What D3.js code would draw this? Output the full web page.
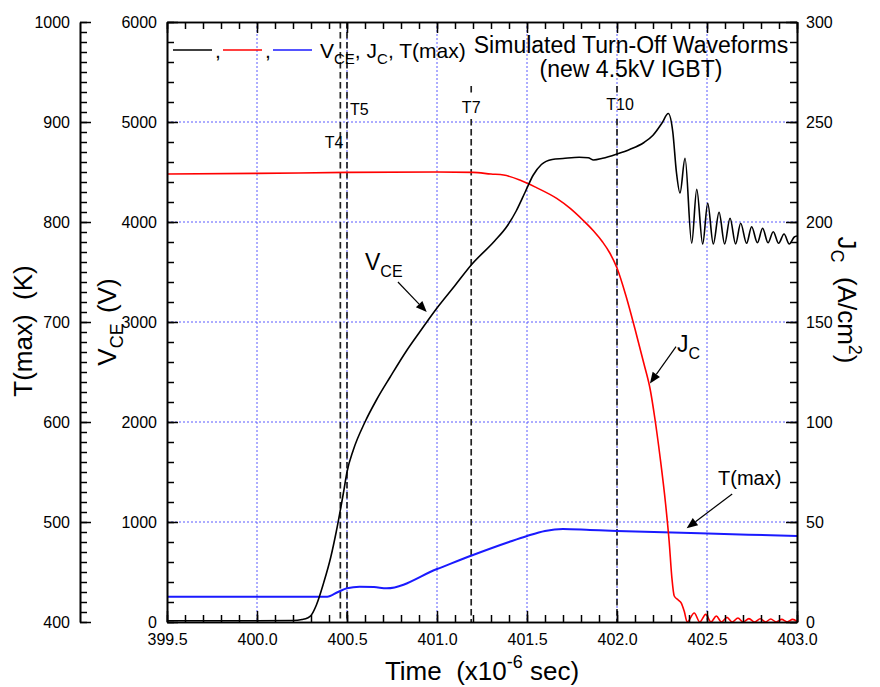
<!DOCTYPE html>
<html>
<head>
<meta charset="utf-8">
<script src="https://cdn.jsdelivr.net/npm/d3@7"></script>
<style>
  html, body { margin: 0; padding: 0; background: #fff; }
  svg { display: block; font-family: "Liberation Sans", Arial, Helvetica, sans-serif; }
</style>
</head>
<body>
<svg id="chart" width="880" height="687"></svg>
<script>
// ---- data -------------------------------------------------------------
// collector-emitter voltage V_CE (V)
const vceTime = [399.5, 400.0, 400.2, 400.25, 400.28, 400.30, 400.33, 400.37, 400.41, 400.44,
  400.48, 400.50, 400.535, 400.60, 400.665, 400.74, 400.83, 400.90, 401.0, 401.1,
  401.19, 401.32, 401.39, 401.44, 401.49, 401.535, 401.58, 401.64, 401.70, 401.79,
  401.84, 401.87, 401.92, 402.0, 402.07, 402.15, 402.20, 402.25, 402.285, 402.31,
  402.33, 402.35, 402.378, 402.415, 402.443, 402.476, 402.504, 402.535, 402.567, 402.598,
  402.628, 402.659, 402.687, 402.72, 402.748, 402.78, 402.809, 402.839, 402.868, 402.898,
  402.928, 402.957, 402.985, 403.0];
const vceValues = [12, 12, 15, 25, 40, 65, 170, 390, 650, 900,
  1290, 1500, 1720, 2000, 2225, 2450, 2710, 2890, 3140, 3365,
  3570, 3810, 3960, 4110, 4300, 4470, 4575, 4625, 4635, 4648,
  4643, 4620, 4637, 4680, 4725, 4795, 4868, 4990, 5085, 4900,
  4500, 4290, 4637, 3787, 4327, 3780, 4187, 3780, 4097, 3780,
  4037, 3780, 3987, 3787, 3953, 3793, 3937, 3793, 3903, 3787,
  3880, 3780, 3850, 3860];

// collector current density J_C (A/cm^2)
const jcTime = [399.5, 400.0, 400.5, 401.0, 401.2, 401.3, 401.37, 401.46, 401.55, 401.665,
  401.74, 401.81, 401.87, 401.92, 401.96, 402.0, 402.05, 402.1, 402.15, 402.185,
  402.21, 402.24, 402.27, 402.29, 402.305, 402.318, 402.34, 402.358, 402.374, 402.39,
  402.429, 402.46, 402.493, 402.522, 402.552, 402.58, 402.611, 402.64, 402.672, 402.70,
  402.733, 402.765, 402.796, 402.825, 402.854, 402.885, 402.915, 402.945, 402.976, 403.0];
const jcValues = [224, 224.3, 224.8, 225, 224.8, 224, 223.5, 221, 217.3, 211.8,
  206.8, 201, 195.5, 190, 184.5, 177, 163, 146.5, 129, 116,
  102, 82, 59, 40, 22, 13, 11, 9.3, 5.2, 0,
  4.5, 0, 3.8, 0, 3.0, 0, 2.3, 0, 2.0, 0,
  1.7, 0, 1.6, 0, 1.5, 0, 1.3, 0, 1.3, 0.3];

// peak device temperature T(max) (K)
const tmaxTime = [399.5, 400.0, 400.39, 400.45, 400.50, 400.57, 400.65, 400.72, 401.0, 401.2,
  401.4, 401.5, 401.6, 401.7, 401.85, 402.0, 402.46, 403.0];
const tmaxValues = [425.3, 425.3, 425.3, 430, 433.7, 435.3, 435, 433.7, 453, 467,
  480, 486, 491, 493, 492, 491, 488.7, 486];

// time markers
const markerTimes = [400.463, 400.5, 401.19, 402.0];
const markerLabels = ["T4", "T5", "T7", "T10"];

// axis ticks
const timeTicks = [399.5, 400.0, 400.5, 401.0, 401.5, 402.0, 402.5, 403.0];
const vceTicks = [0, 1000, 2000, 3000, 4000, 5000, 6000];
const jcTicks = [0, 50, 100, 150, 200, 250, 300];
const tmaxTicks = [400, 500, 600, 700, 800, 900, 1000];

// ---- layout -----------------------------------------------------------
const svg = d3.select("#chart");
const plotLeft = 167, plotRight = 797, plotTop = 22, plotBottom = 622;
const tAxisX = 80;

const x = d3.scaleLinear().domain([399.5, 403.0]).range([plotLeft, plotRight]);
const yV = d3.scaleLinear().domain([0, 6000]).range([plotBottom, plotTop]);
const yJ = d3.scaleLinear().domain([0, 300]).range([plotBottom, plotTop]);
const yT = d3.scaleLinear().domain([400, 1000]).range([plotBottom, plotTop]);

const gridColor = "#5a5aff";

// ---- grid -------------------------------------------------------------
const grid = svg.append("g");
grid.selectAll("line.h").data(vceTicks.slice(1, -1)).join("line")
  .attr("x1", plotLeft).attr("x2", plotRight)
  .attr("y1", d => yV(d)).attr("y2", d => yV(d))
  .attr("stroke", gridColor).attr("stroke-width", 1).attr("stroke-dasharray", "2,2");
grid.selectAll("line.v").data(timeTicks.slice(1, -1)).join("line")
  .attr("x1", d => x(d)).attr("x2", d => x(d))
  .attr("y1", plotTop).attr("y2", plotBottom)
  .attr("stroke", gridColor).attr("stroke-width", 1).attr("stroke-dasharray", "2,2");

// ---- marker lines -----------------------------------------------------
const markers = svg.append("g");
const dash = { stroke: "#222", width: 1.7, pattern: "6.5,3.5" };
markerTimes.forEach((t, i) => {
  const segs = i < 2 ? [[plotTop, plotBottom]] : [[86, 94], [119, plotBottom]];
  segs.forEach(s => {
    markers.append("line")
      .attr("x1", x(t)).attr("x2", x(t)).attr("y1", s[0]).attr("y2", s[1])
      .attr("stroke", dash.stroke).attr("stroke-width", dash.width)
      .attr("stroke-dasharray", dash.pattern);
  });
});
const markerText = [
  { dx: 3, y: 148, anchor: "end" },
  { dx: 3, y: 115, anchor: "start" },
  { dx: 0, y: 113, anchor: "middle" },
  { dx: 3, y: 110, anchor: "middle" }
];
markerLabels.forEach((lab, i) => {
  markers.append("text")
    .attr("x", x(markerTimes[i]) + markerText[i].dx)
    .attr("y", markerText[i].y)
    .attr("text-anchor", markerText[i].anchor)
    .attr("font-size", 16).attr("fill", "#000")
    .text(lab);
});

// ---- curves -----------------------------------------------------------
function drawSeries(times, values, yScale, color, width) {
  const pts = times.map((t, i) => [t, values[i]]);
  const line = d3.line()
    .x(d => x(d[0])).y(d => yScale(d[1]))
    .curve(d3.curveMonotoneX);
  svg.append("path").datum(pts)
    .attr("d", line).attr("fill", "none")
    .attr("stroke", color).attr("stroke-width", width)
    .attr("stroke-linejoin", "round");
}
drawSeries(tmaxTime, tmaxValues, yT, "#1a1aff", 2);
drawSeries(jcTime, jcValues, yJ, "#ff0000", 1.6);
drawSeries(vceTime, vceValues, yV, "#000000", 1.6);

// ---- axes -------------------------------------------------------------
function styleAxis(g) {
  g.selectAll("path.domain").attr("stroke", "#000").attr("stroke-width", 1.6);
  g.selectAll(".tick line").attr("stroke", "#000").attr("stroke-width", 1.5);
  g.selectAll(".tick text").attr("font-size", 16).attr("fill", "#000")
    .attr("font-family", "'Liberation Sans', Arial, sans-serif");
}
const minorLen = -7, majorLen = -11;
const timeMinor = d3.range(0, 36).map(i => 399.5 + i * 0.1);

// bottom (time)
svg.append("g").attr("transform", `translate(0,${plotBottom})`)
  .call(d3.axisBottom(x).tickValues(timeMinor).tickSize(minorLen).tickSizeOuter(0).tickFormat(""))
  .call(styleAxis);
svg.append("g").attr("transform", `translate(0,${plotBottom})`)
  .call(d3.axisBottom(x).tickValues(timeTicks).tickSize(majorLen).tickSizeOuter(0).tickPadding(12).tickFormat(d3.format(".1f")))
  .call(styleAxis);
// top
svg.append("g").attr("transform", `translate(0,${plotTop})`)
  .call(d3.axisTop(x).tickValues(timeMinor).tickSize(minorLen).tickSizeOuter(0).tickFormat(""))
  .call(styleAxis);
svg.append("g").attr("transform", `translate(0,${plotTop})`)
  .call(d3.axisTop(x).tickValues(timeTicks).tickSize(majorLen).tickSizeOuter(0).tickFormat(""))
  .call(styleAxis);
// left (V_CE)
svg.append("g").attr("transform", `translate(${plotLeft},0)`)
  .call(d3.axisLeft(yV).tickValues(d3.range(0, 6001, 200)).tickSize(minorLen).tickSizeOuter(0).tickFormat(""))
  .call(styleAxis);
svg.append("g").attr("transform", `translate(${plotLeft},0)`)
  .call(d3.axisLeft(yV).tickValues(vceTicks).tickSize(majorLen).tickSizeOuter(0).tickPadding(10).tickFormat(d3.format("d")))
  .call(styleAxis);
// right (J_C)
svg.append("g").attr("transform", `translate(${plotRight},0)`)
  .call(d3.axisRight(yJ).tickValues(d3.range(0, 301, 10)).tickSize(minorLen).tickSizeOuter(0).tickFormat(""))
  .call(styleAxis);
svg.append("g").attr("transform", `translate(${plotRight},0)`)
  .call(d3.axisRight(yJ).tickValues(jcTicks).tickSize(majorLen).tickSizeOuter(0).tickPadding(9).tickFormat(d3.format("d")))
  .call(styleAxis);
// outer left (T(max))
svg.append("g").attr("transform", `translate(${tAxisX},0)`)
  .call(d3.axisLeft(yT).tickValues(d3.range(400, 1001, 10)).tickSize(minorLen).tickSizeOuter(0).tickFormat(""))
  .call(styleAxis);
svg.append("g").attr("transform", `translate(${tAxisX},0)`)
  .call(d3.axisLeft(yT).tickValues(tmaxTicks).tickSize(majorLen).tickSizeOuter(0).tickPadding(10).tickFormat(d3.format("d")))
  .call(styleAxis);

// ---- axis titles ------------------------------------------------------
const titleSize = 26, subSize = 18;
svg.append("text")
  .attr("transform", "translate(32,331) rotate(-90)")
  .attr("text-anchor", "middle").attr("font-size", titleSize)
  .text("T(max)\u00a0\u00a0(K)");

const vTitle = svg.append("text")
  .attr("transform", "translate(116,322) rotate(-90)")
  .attr("text-anchor", "middle").attr("font-size", titleSize);
vTitle.append("tspan").text("V");
vTitle.append("tspan").attr("font-size", subSize).attr("dy", 7).text("CE");
vTitle.append("tspan").attr("dy", -7).attr("dx", 3).text("\u00a0(V)");

const jTitle = svg.append("text")
  .attr("transform", "translate(838,300) rotate(90)")
  .attr("text-anchor", "middle").attr("font-size", titleSize);
jTitle.append("tspan").text("J");
jTitle.append("tspan").attr("font-size", subSize).attr("dy", 7).text("C");
jTitle.append("tspan").attr("dy", -7).text("\u00a0\u00a0(A/cm");
jTitle.append("tspan").attr("font-size", subSize).attr("dy", -11).text("2");
jTitle.append("tspan").attr("dy", 11).text(")");

const xTitle = svg.append("text")
  .attr("x", (plotLeft + plotRight) / 2).attr("y", 680)
  .attr("text-anchor", "middle").attr("font-size", titleSize);
xTitle.append("tspan").text("Time\u00a0\u00a0(x10");
xTitle.append("tspan").attr("font-size", subSize).attr("dy", -12).text("-6");
xTitle.append("tspan").attr("dy", 12).text("\u00a0sec)");

// ---- chart title ------------------------------------------------------
svg.append("text").attr("x", 631).attr("y", 53).attr("text-anchor", "middle")
  .attr("font-size", 23).text("Simulated Turn-Off Waveforms");
svg.append("text").attr("x", 631).attr("y", 77).attr("text-anchor", "middle")
  .attr("font-size", 23).text("(new 4.5kV IGBT)");

// ---- legend -----------------------------------------------------------
const legend = svg.append("g");
const legendColors = ["#000000", "#ff0000", "#1a1aff"];
legendColors.forEach((c, i) => {
  const x0 = 173 + i * 50;
  legend.append("line").attr("x1", x0).attr("x2", x0 + 39).attr("y1", 50).attr("y2", 50)
    .attr("stroke", c).attr("stroke-width", 1.6);
  if (i < 2) legend.append("text").attr("x", x0 + 42).attr("y", 58).attr("font-size", 21).text(",");
});
const legText = legend.append("text").attr("x", 320).attr("y", 58).attr("font-size", 21);
legText.append("tspan").text("V");
legText.append("tspan").attr("font-size", 15).attr("dy", 6).text("CE");
legText.append("tspan").attr("dy", -6).text(", J");
legText.append("tspan").attr("font-size", 15).attr("dy", 6).text("C");
legText.append("tspan").attr("dy", -6).text(", T(max)");

// ---- annotations ------------------------------------------------------
function arrow(x1, y1, x2, y2) {
  const ang = Math.atan2(y2 - y1, x2 - x1);
  const len = 11, half = 4.5;
  const bx = x2 - len * Math.cos(ang), by = y2 - len * Math.sin(ang);
  svg.append("line").attr("x1", x1).attr("y1", y1).attr("x2", bx).attr("y2", by)
    .attr("stroke", "#000").attr("stroke-width", 1.2);
  const p = [
    [x2, y2],
    [bx + half * Math.sin(ang), by - half * Math.cos(ang)],
    [bx - half * Math.sin(ang), by + half * Math.cos(ang)]
  ];
  svg.append("path").attr("d", "M" + p.map(q => q.join(",")).join("L") + "Z").attr("fill", "#000");
}

// V_CE label
const vLab = svg.append("text").attr("x", 365).attr("y", 270).attr("font-size", 23);
vLab.append("tspan").text("V");
vLab.append("tspan").attr("font-size", 16).attr("dy", 7).text("CE");
arrow(x(400.783), yV(3400), x(400.943), yV(3100));

// J_C label
const jLab = svg.append("text").attr("x", 677).attr("y", 352).attr("font-size", 23);
jLab.append("tspan").text("J");
jLab.append("tspan").attr("font-size", 16).attr("dy", 7).text("C");
arrow(x(402.328), yJ(137.7), x(402.183), yJ(119.3));

// T(max) label
svg.append("text").attr("x", 718).attr("y", 485).attr("font-size", 20).text("T(max)");
arrow(x(402.64), yT(528), x(402.387), yT(493.7));
</script>
</body>
</html>
